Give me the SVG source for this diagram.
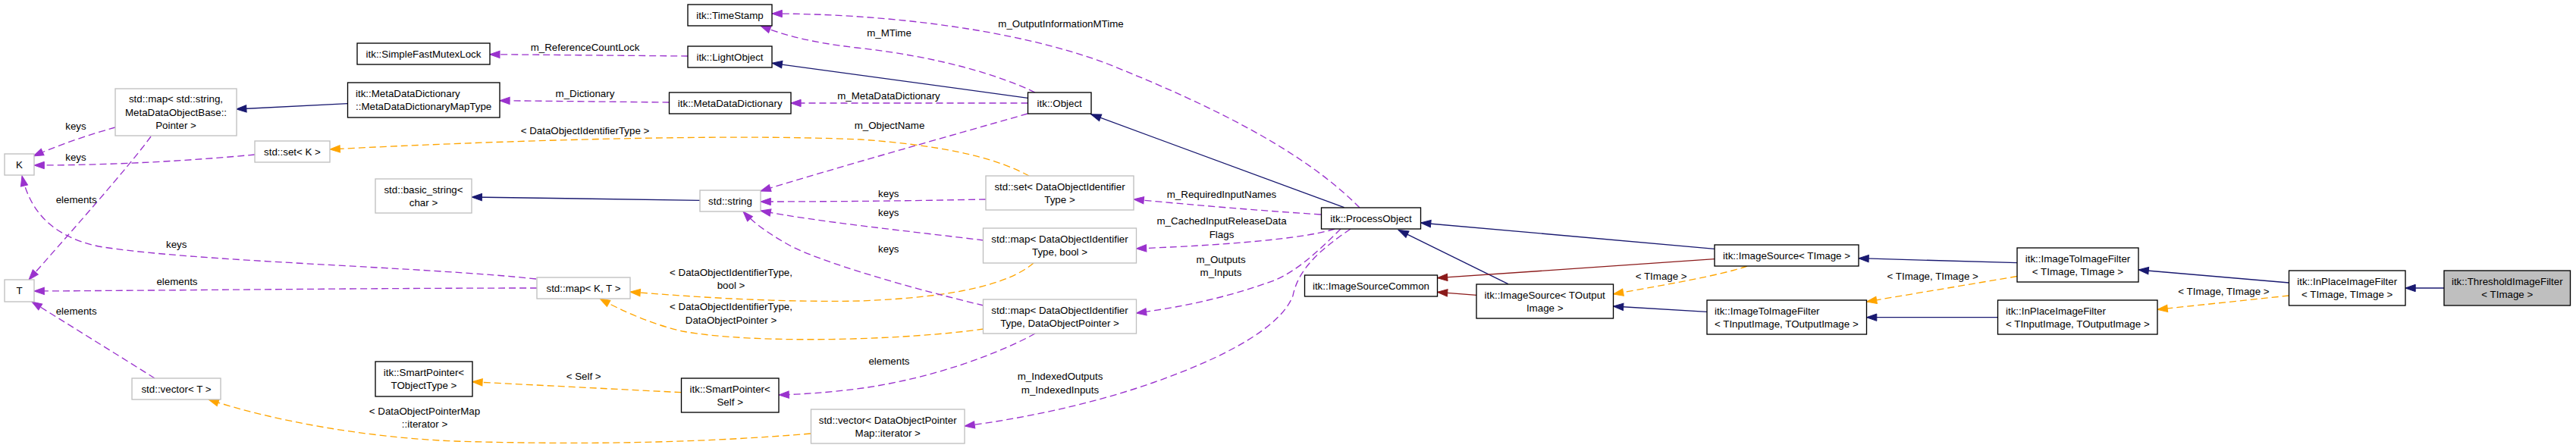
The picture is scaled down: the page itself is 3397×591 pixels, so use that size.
<svg xmlns="http://www.w3.org/2000/svg" width="3397" height="591" viewBox="0 0 3397 591">
<style>
text{font-family:"Liberation Sans",Arial,Helvetica,sans-serif;font-size:13.33px;fill:#000}
.m{text-anchor:middle}
.s{text-anchor:start}
.nb rect{fill:#fff;stroke:#000;stroke-width:1.33}
.ng rect{fill:#fff;stroke:#bfbfbf;stroke-width:1.33}
.nh rect{fill:#bfbfbf;stroke:#000;stroke-width:1.33}
.e path{fill:none;stroke-width:1.33}
.e .inh{stroke:#191970;marker-end:url(#aN)}
.e .red{stroke:#8b1a1a;marker-end:url(#aR)}
.e .tpl{stroke:#ffa500;stroke-dasharray:9,5;marker-end:url(#aO)}
.e .use{stroke:#9a32cd;stroke-dasharray:9,5;marker-end:url(#aP)}
</style>
<defs>
<marker id="aN" markerUnits="userSpaceOnUse" markerWidth="14" markerHeight="10" viewBox="0 0 14 10" refX="13.3" refY="4.67" orient="auto" overflow="visible"><path d="M0,0L13.3,4.67L0,9.33z" fill="#191970" stroke="#191970"/></marker>
<marker id="aR" markerUnits="userSpaceOnUse" markerWidth="14" markerHeight="10" viewBox="0 0 14 10" refX="13.3" refY="4.67" orient="auto" overflow="visible"><path d="M0,0L13.3,4.67L0,9.33z" fill="#8b1a1a" stroke="#8b1a1a"/></marker>
<marker id="aO" markerUnits="userSpaceOnUse" markerWidth="14" markerHeight="10" viewBox="0 0 14 10" refX="13.3" refY="4.67" orient="auto" overflow="visible"><path d="M0,0L13.3,4.67L0,9.33z" fill="#ffa500" stroke="#ffa500"/></marker>
<marker id="aP" markerUnits="userSpaceOnUse" markerWidth="14" markerHeight="10" viewBox="0 0 14 10" refX="13.3" refY="4.67" orient="auto" overflow="visible"><path d="M0,0L13.3,4.67L0,9.33z" fill="#9a32cd" stroke="#9a32cd"/></marker>
</defs>
<rect width="3397" height="591" fill="#fff"/>

<g id="edges" class="e">
<path class="inh" d="M458.5,136.7L311.6,144"/>
<path class="inh" d="M1355.5,129.3L1018.1,83.3"/>
<path class="inh" d="M922.8,264.3L622.1,260"/>
<path class="inh" d="M1772.5,273.7L1438.7,150.7"/>
<path class="inh" d="M1988.8,374.7L1844.1,303.3"/>
<path class="inh" d="M2261,328.3L1873.5,294"/>
<path class="inh" d="M2251,411.3L2127.4,404"/>
<path class="inh" d="M2660,346.7L2450.9,340.7"/>
<path class="inh" d="M2634.5,418.7L2461.5,418.7"/>
<path class="inh" d="M3018.5,373L2820,356"/>
<path class="inh" d="M3223.2,380L3171.9,380"/>
<path class="red" d="M2261,341.7L1895.4,366.7"/>
<path class="red" d="M1947,389.3L1895.4,385.3"/>
<path class="tpl" d="M1357,232C1320,212 1260,193 1135,184C950,176 650,186 435,197"/>
<path class="tpl" d="M1363,347C1330,375 1260,392 1135,397C1020,399 920,392 831,385"/>
<path class="tpl" d="M1297,434C1200,448 1000,455 900,437C860,428 820,410 791,394"/>
<path class="tpl" d="M898.5,517.7L622.8,503.7"/>
<path class="tpl" d="M1069,572C950,582 800,588 600,582C480,577 360,555 275,527"/>
<path class="tpl" d="M2304,351C2270,363 2200,375 2127.4,388"/>
<path class="tpl" d="M2660,364.5L2461.5,398"/>
<path class="tpl" d="M3018.5,390L2845,408.3"/>
<path class="use" d="M152,168C120,177 80,190 44,206"/>
<path class="use" d="M336,204C250,212 150,218 45,218"/>
<path class="use" d="M199,180C170,220 90,310 38,369"/>
<path class="use" d="M707,368C560,352 250,345 130,325C70,312 40,280 29,232"/>
<path class="use" d="M708,380C500,380 250,383 45,384"/>
<path class="use" d="M204,499C150,465 90,428 42,398"/>
<path class="use" d="M907.2,74L645.7,71.7"/>
<path class="use" d="M882.5,135L658.8,132.7"/>
<path class="use" d="M1365,122C1320,100 1240,75 1130,63C1070,56 1035,47 1003,34"/>
<path class="use" d="M1793,274C1720,200 1600,140 1460,84C1330,35 1150,18 1018,18"/>
<path class="use" d="M1355.5,136L1042.8,136"/>
<path class="use" d="M1355,150C1250,180 1100,222 1003,252"/>
<path class="use" d="M1300,263C1200,265 1100,266 1003,266"/>
<path class="use" d="M1297,317C1200,305 1080,293 1003,278"/>
<path class="use" d="M1297,403C1200,380 1080,345 1040,323C1010,306 993,293 980,279"/>
<path class="use" d="M1365,440C1320,465 1230,500 1130,513C1090,518 1060,520 1027,521"/>
<path class="use" d="M1742,283C1650,277 1570,270 1495,263"/>
<path class="use" d="M1760,302C1730,312 1650,322 1498.4,328"/>
<path class="use" d="M1768,302C1740,330 1710,358 1680,370C1620,392 1560,405 1498.4,413"/>
<path class="use" d="M1781,302C1740,330 1712,355 1705,390C1690,430 1620,470 1520,505C1440,533 1350,552 1272,562"/>
</g>

<g id="edge-labels">
<text class="m" x="771.5" y="67">m_ReferenceCountLock</text>
<text class="m" x="771.5" y="128.4">m_Dictionary</text>
<text class="m" x="771.5" y="177.4">&lt; DataObjectIdentifierType &gt;</text>
<text class="m" x="1172.5" y="48">m_MTime</text>
<text class="m" x="1399" y="36.4">m_OutputInformationMTime</text>
<text class="m" x="1172" y="131.4">m_MetaDataDictionary</text>
<text class="m" x="1173" y="169.7">m_ObjectName</text>
<text class="m" x="100" y="171.4">keys</text>
<text class="m" x="100" y="212">keys</text>
<text class="m" x="100.7" y="268">elements</text>
<text class="m" x="232.7" y="327">keys</text>
<text class="m" x="233.5" y="376">elements</text>
<text class="m" x="100.7" y="415">elements</text>
<text class="m" x="560" y="547">&lt; DataObjectPointerMap</text>
<text class="m" x="560" y="564.3">::iterator &gt;</text>
<text class="m" x="964" y="364">&lt; DataObjectIdentifierType,</text>
<text class="m" x="964" y="381.4">bool &gt;</text>
<text class="m" x="964" y="409">&lt; DataObjectIdentifierType,</text>
<text class="m" x="964" y="426.8">DataObjectPointer &gt;</text>
<text class="m" x="769.7" y="501.4">&lt; Self &gt;</text>
<text class="m" x="1171.8" y="259.7">keys</text>
<text class="m" x="1171.8" y="285.4">keys</text>
<text class="m" x="1171.8" y="333">keys</text>
<text class="m" x="1611" y="261.4">m_RequiredInputNames</text>
<text class="m" x="1611" y="296.4">m_CachedInputReleaseData</text>
<text class="m" x="1611" y="313.7">Flags</text>
<text class="m" x="1610" y="347">m_Outputs</text>
<text class="m" x="1610" y="364.3">m_Inputs</text>
<text class="m" x="1172.5" y="481.4">elements</text>
<text class="m" x="1398" y="501.4">m_IndexedOutputs</text>
<text class="m" x="1398" y="518.7">m_IndexedInputs</text>
<text class="m" x="2190.7" y="368.7">&lt; TImage &gt;</text>
<text class="m" x="2548.7" y="368.7">&lt; TImage, TImage &gt;</text>
<text class="m" x="2932.5" y="388.7">&lt; TImage, TImage &gt;</text>
</g>

<g id="n_K" class="ng"><rect x="6" y="203" width="39" height="28"/><text class="m" x="25.5" y="221.7">K</text></g>
<g id="n_T" class="ng"><rect x="6" y="369" width="39" height="29"/><text class="m" x="25.5" y="388.2">T</text></g>
<g id="n_map_string" class="ng"><rect x="152" y="117" width="160" height="62"/><text class="m" x="232" y="135.4">std::map&lt; std::string,</text><text class="m" x="232" y="152.7">MetaDataObjectBase::</text><text class="m" x="232" y="170">Pointer &gt;</text></g>
<g id="n_set_K" class="ng"><rect x="336" y="186" width="99" height="28"/><text class="m" x="385.5" y="204.7">std::set&lt; K &gt;</text></g>
<g id="n_SimpleFastMutexLock" class="nb"><rect x="471" y="57" width="175" height="28"/><text class="m" x="558.5" y="75.7">itk::SimpleFastMutexLock</text></g>
<g id="n_MapType" class="nb"><rect x="458.5" y="109" width="200.5" height="46"/><text class="s" x="469" y="128">itk::MetaDataDictionary</text><text class="s" x="469" y="145.4">::MetaDataDictionaryMapType</text></g>
<g id="n_basic_string" class="ng"><rect x="495" y="236" width="127" height="45"/><text class="m" x="558.5" y="254.5">std::basic_string&lt;</text><text class="m" x="558.5" y="271.9">char &gt;</text></g>
<g id="n_vector_T" class="ng"><rect x="174" y="499" width="117" height="28"/><text class="m" x="232.5" y="517.7">std::vector&lt; T &gt;</text></g>
<g id="n_SmartPointer_TObjectType" class="nb"><rect x="495" y="477" width="128" height="46"/><text class="m" x="559" y="496">itk::SmartPointer&lt;</text><text class="m" x="559" y="513.4">TObjectType &gt;</text></g>
<g id="n_TimeStamp" class="nb"><rect x="907" y="6" width="111" height="28"/><text class="m" x="962.5" y="24.7">itk::TimeStamp</text></g>
<g id="n_LightObject" class="nb"><rect x="907" y="61" width="111" height="28"/><text class="m" x="962.5" y="79.7">itk::LightObject</text></g>
<g id="n_MetaDataDictionary" class="nb"><rect x="882.5" y="122" width="160.5" height="28"/><text class="m" x="962.7" y="140.7">itk::MetaDataDictionary</text></g>
<g id="n_string" class="ng"><rect x="923" y="251" width="80" height="28"/><text class="m" x="963" y="269.7">std::string</text></g>
<g id="n_map_KT" class="ng"><rect x="708" y="366" width="123" height="28"/><text class="m" x="769.5" y="384.7">std::map&lt; K, T &gt;</text></g>
<g id="n_SmartPointer_Self" class="nb"><rect x="898.5" y="499" width="128.5" height="45"/><text class="m" x="962.7" y="517.5">itk::SmartPointer&lt;</text><text class="m" x="962.7" y="534.9">Self &gt;</text></g>
<g id="n_Object" class="nb"><rect x="1355.5" y="122" width="83.5" height="28"/><text class="m" x="1397.2" y="140.7">itk::Object</text></g>
<g id="n_set_DOI" class="ng"><rect x="1300" y="232" width="195" height="45"/><text class="m" x="1397.5" y="250.5">std::set&lt; DataObjectIdentifier</text><text class="m" x="1397.5" y="267.9">Type &gt;</text></g>
<g id="n_map_DOI_bool" class="ng"><rect x="1296.5" y="301" width="202" height="46"/><text class="m" x="1397.5" y="320">std::map&lt; DataObjectIdentifier</text><text class="m" x="1397.5" y="337.4">Type, bool &gt;</text></g>
<g id="n_map_DOI_DOP" class="ng"><rect x="1296.5" y="395" width="202" height="45"/><text class="m" x="1397.5" y="413.5">std::map&lt; DataObjectIdentifier</text><text class="m" x="1397.5" y="430.9">Type, DataObjectPointer &gt;</text></g>
<g id="n_vector_DOP" class="ng"><rect x="1069.5" y="540" width="202.5" height="45"/><text class="m" x="1170.7" y="558.5">std::vector&lt; DataObjectPointer</text><text class="m" x="1170.7" y="575.9">Map::iterator &gt;</text></g>
<g id="n_ProcessObject" class="nb"><rect x="1742.5" y="274" width="131" height="28"/><text class="m" x="1808" y="292.7">itk::ProcessObject</text></g>
<g id="n_ImageSourceCommon" class="nb"><rect x="1720.5" y="363" width="175" height="28"/><text class="m" x="1808" y="381.7">itk::ImageSourceCommon</text></g>
<g id="n_ImageSource_TOutputImage" class="nb"><rect x="1947" y="375" width="180.5" height="45"/><text class="m" x="2037.2" y="393.5">itk::ImageSource&lt; TOutput</text><text class="m" x="2037.2" y="410.9">Image &gt;</text></g>
<g id="n_ImageSource_TImage" class="nb"><rect x="2261" y="323" width="190" height="28"/><text class="m" x="2356" y="341.7">itk::ImageSource&lt; TImage &gt;</text></g>
<g id="n_ImageToImageFilter_TIn_TOut" class="nb"><rect x="2251" y="396" width="210.5" height="45"/><text class="s" x="2261" y="414.5">itk::ImageToImageFilter</text><text class="s" x="2261" y="431.9">&lt; TInputImage, TOutputImage &gt;</text></g>
<g id="n_InPlaceImageFilter_TIn_TOut" class="nb"><rect x="2634.5" y="396" width="210.5" height="45"/><text class="s" x="2645" y="414.5">itk::InPlaceImageFilter</text><text class="s" x="2645" y="431.9">&lt; TInputImage, TOutputImage &gt;</text></g>
<g id="n_ImageToImageFilter_TImage" class="nb"><rect x="2660" y="327" width="160" height="45"/><text class="m" x="2740" y="345.5">itk::ImageToImageFilter</text><text class="m" x="2740" y="362.9">&lt; TImage, TImage &gt;</text></g>
<g id="n_InPlaceImageFilter_TImage" class="nb"><rect x="3018.5" y="357" width="153.5" height="46"/><text class="m" x="3095.2" y="376">itk::InPlaceImageFilter</text><text class="m" x="3095.2" y="393.4">&lt; TImage, TImage &gt;</text></g>
<g id="n_ThresholdImageFilter" class="nh"><rect x="3223" y="357" width="166.5" height="46"/><text class="m" x="3306.3" y="376">itk::ThresholdImageFilter</text><text class="m" x="3306.3" y="393.4">&lt; TImage &gt;</text></g>
</svg>
